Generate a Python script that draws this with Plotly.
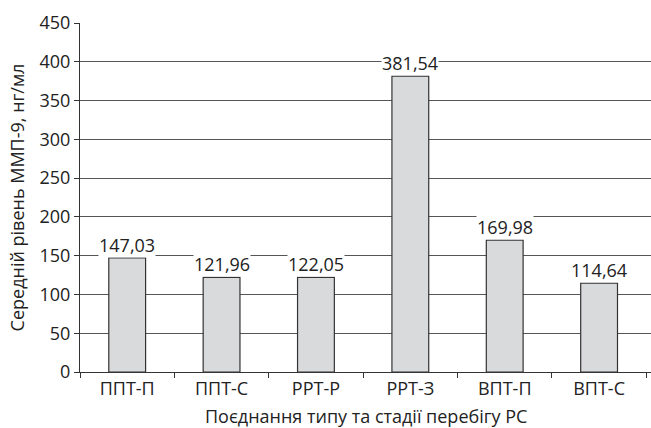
import plotly.graph_objects as go

categories = ["ППТ-П", "ППТ-С", "РРТ-Р", "РРТ-З", "ВПТ-П", "ВПТ-С"]
values = [147.03, 121.96, 122.05, 381.54, 169.98, 114.64]
labels = ["147,03", "121,96", "122,05", "381,54", "169,98", "114,64"]
y_ticks = [0, 50, 100, 150, 200, 250, 300, 350, 400, 450]
x_title = "Поєднання типу та стадії перебігу РС"
y_title = "Середній рівень ММП-9, нг/мл"

FONT = "Open Sans"
FS = 18

fig = go.Figure()
fig.add_trace(go.Bar(
    x=categories, y=values,
    marker=dict(color="#d9dadc", line=dict(color="#333333", width=1.2)),
    width=0.39,
    hoverinfo="skip",
))

for c, v, t in zip(categories, values, labels):
    fig.add_annotation(
        x=c, y=v, text=t, showarrow=False, yanchor="bottom", yshift=0,
        bgcolor="white", borderpad=0,
        font=dict(family=FONT, size=FS, color="#222222"),
    )

# x-axis title as an annotation to control its vertical position
fig.add_annotation(
    xref="paper", yref="paper", x=0.5, y=0, yanchor="middle", yshift=-44,
    text=x_title, showarrow=False,
    font=dict(family=FONT, size=FS, color="#222222"),
)

fig.update_layout(
    width=651, height=428,
    margin=dict(l=80, r=0, t=23, b=56, autoexpand=False),
    paper_bgcolor="white", plot_bgcolor="white",
    showlegend=False,
    font=dict(family=FONT, size=FS, color="#222222"),
    xaxis=dict(
        range=[-0.5, 5.55], automargin=False,
        showline=True, linecolor="#333333", linewidth=1.2,
        ticks="outside", tickson="boundaries", ticklen=5, tickcolor="#333333",
        showgrid=False, tickfont=dict(size=FS),
    ),
    yaxis=dict(
        title=dict(text=y_title, font=dict(size=FS), standoff=10),
        range=[0, 450], tickvals=y_ticks, automargin=False,
        showline=True, linecolor="#333333", linewidth=1.2,
        ticks="outside", ticklen=5, tickcolor="#333333",
        showgrid=True, gridcolor="#555555", gridwidth=1.2,
        zeroline=False, tickfont=dict(size=FS),
    ),
)

fig.write_html(
    "out.html",
    config={"displayModeBar": False},
    post_script="document.body.style.margin='0';document.body.style.overflow='hidden';",
)
